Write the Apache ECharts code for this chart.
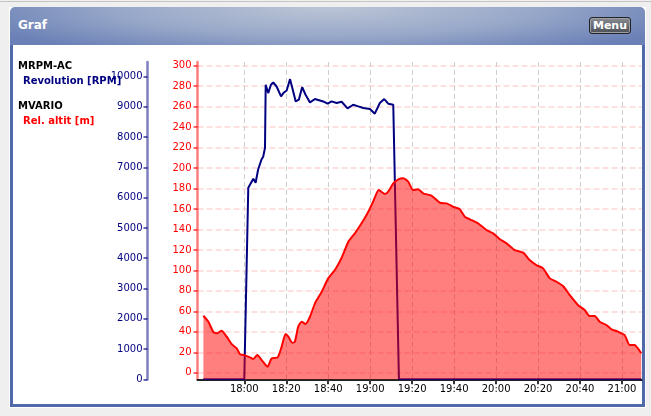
<!DOCTYPE html>
<html>
<head>
<meta charset="utf-8">
<script src="https://cdn.jsdelivr.net/npm/echarts@6/dist/echarts.min.js"></script>
<style>
  html, body { margin:0; padding:0; width:651px; height:416px; overflow:hidden; background:#efefef; }
  #topline { position:absolute; left:0; top:1px; width:651px; height:1px; background:#c4c4c4; }
  #panel { position:absolute; left:9px; top:7px; width:637px; height:401px; background:#fff; }
  #head { position:absolute; left:10px; top:7px; width:635px; height:38px; border-radius:5px 5px 0 0;
    background:radial-gradient(ellipse 60% 140% at 50% 0%, #bcc5d6 0%, #98a8c9 55%, #6a80b6 100%); }
  #head .t { position:absolute; left:8px; top:11px; color:#fff; font:bold 12px "DejaVu Sans", sans-serif; }
  #menu { position:absolute; left:579px; top:10px; width:42px; height:17px; box-sizing:border-box;
    border:1px solid #222; border-radius:3px; background:linear-gradient(#8a8c94, #4e5058);
    box-shadow:inset 0 0 0 1px #9da0a8; color:#fff; font:bold 11px "DejaVu Sans", sans-serif;
    text-align:center; line-height:15px; }
  #body { position:absolute; left:10px; top:45px; width:629px; height:359px; border:3px solid #5069a8; border-top:none; background:#fff; }
  #chart { position:absolute; left:0; top:0; width:651px; height:416px; }
</style>
</head>
<body>
<div id="topline"></div>
<div id="panel"></div>
<div id="head"><span class="t">Graf</span><div id="menu">Menu</div></div>
<div id="body"></div>
<div id="chart"></div>
<script>
// Rel. altit [m] (MVARIO)
var altTime = [
  '17:40:30','17:42:54','17:45:12','17:46:54','17:49:12','17:51:36','17:54:00','17:56:24','17:58:00','18:00:18',
  '18:02:42','18:04:18','18:06:12','18:08:18','18:11:06','18:13:00','18:15:54','18:17:48','18:19:42','18:21:00',
  '18:22:54','18:24:06','18:25:42','18:27:18','18:29:12','18:31:18','18:33:42','18:36:54','18:40:00','18:43:12',
  '18:46:24','18:49:36','18:52:42','18:55:54','18:59:06','19:01:24','19:04:06','19:07:00','19:08:36','19:11:00',
  '19:13:24','19:15:48','19:18:06','19:20:30','19:22:54','19:25:12','19:29:12','19:33:12','19:36:24','19:39:30',
  '19:42:42','19:45:06','19:47:30','19:51:24','19:55:24','19:58:36','20:01:48','20:05:00','20:08:54','20:12:54',
  '20:16:00','20:19:12','20:22:24','20:25:36','20:28:48','20:31:54','20:35:06','20:39:00','20:42:12','20:44:36',
  '20:47:00','20:49:24','20:52:36','20:55:00','20:58:06','21:01:18','21:03:36','21:06:00','21:07:36','21:09:12'
];
var altValue = [
  55.7, 49.8, 40, 38.5, 41, 35.2, 28, 23.8, 18, 17,
  15, 13.4, 17.3, 12.4, 5.9, 14, 15, 25.4, 37.8, 35.2,
  29.3, 30.3, 45, 49.8, 47.6, 54.7, 67.8, 79.2, 92.2, 100.4,
  112.4, 128, 136.2, 146, 157.3, 167.1, 178.5, 174.6, 176.9, 185,
  189, 190, 186.7, 178.5, 179.2, 175.3, 173, 166.1, 165.5, 162.2,
  159.7, 152.4, 149.9, 146, 139.5, 136.2, 130.4, 126.4, 119.9, 117.3,
  110.1, 105.2, 102, 92.2, 88.9, 84.7, 75.9, 66.2, 61.3, 55.4,
  55.4, 49.8, 46.6, 42.4, 40.1, 36.8, 27.1, 27.1, 23.8, 19
];

// Revolution [RPM] (MRPM-AC)
var rpmTime = [
  '17:40:30','18:00:00','18:01:54','18:04:18','18:05:24','18:06:36','18:08:12','18:09:00','18:09:52','18:10:12',
  '18:11:24','18:12:42','18:13:48','18:15:24','18:17:30','18:18:36','18:20:12','18:21:48','18:22:54','18:24:30',
  '18:26:00','18:27:36','18:29:12','18:31:18','18:33:42','18:36:00','18:37:36','18:39:42','18:41:36','18:44:00',
  '18:46:24','18:49:12','18:51:54','18:54:18','18:56:42','18:59:54','19:02:12','19:04:36','19:06:42','19:08:36',
  '19:11:00','19:13:42','21:09:12'
];
var rpmValue = [
  0, 0, 6330, 6625, 6493, 6930, 7260, 7349, 7645, 9727,
  9454, 9727, 9803, 9671, 9342, 9454, 9539, 9914, 9618, 9178,
  9234, 9651, 9398, 9145, 9257, 9211, 9178, 9102, 9178, 9125,
  9168, 8947, 9069, 9013, 8960, 8927, 8773, 9125, 9257, 9102,
  9069, 0, 0
];

var timeTicks = ['18:00','18:20','18:40','19:00','19:20','19:40','20:00','20:20','20:40','21:00'];
var rpmTicks = [0,1000,2000,3000,4000,5000,6000,7000,8000,9000,10000];
var altTicks = [0,20,40,60,80,100,120,140,160,180,200,220,240,260,280,300];

function toMin(s) {
  var p = s.split(':').map(Number);
  return p[0] * 60 + p[1] + (p[2] || 0) / 60;
}
function fmtTime(v) {
  var h = Math.floor(v / 60 + 1e-6), m = Math.round(v - h * 60);
  return h + ':' + (m < 10 ? '0' + m : m);
}
function pairs(t, v) {
  return t.map(function (s, i) { return [toMin(s), v[i]]; });
}

var FONT = '"DejaVu Sans", sans-serif';
var chart = echarts.init(document.getElementById('chart'), null, { renderer: 'canvas' });

var option = {
  animation: false,
  backgroundColor: 'transparent',
  grid: { left: 197.5, right: 9.3, top: 62, bottom: 36.7, containLabel: false, outerBoundsMode: 'none' },
  graphic: [
    { type: 'text', left: 18, top: 61, style: { text: 'MRPM-AC', fill: '#000', font: 'bold 10px ' + FONT } },
    { type: 'text', left: 23, top: 76, style: { text: 'Revolution [RPM]', fill: '#000080', font: 'bold 10px ' + FONT } },
    { type: 'text', left: 18, top: 101, style: { text: 'MVARIO', fill: '#000', font: 'bold 10px ' + FONT } },
    { type: 'text', left: 23, top: 116, style: { text: 'Rel. altit [m]', fill: '#ff0000', font: 'bold 10px ' + FONT } }
  ],
  xAxis: {
    type: 'value',
    min: toMin('17:37:42'),
    max: toMin('21:09:24'),
    axisLine: { onZero: false, lineStyle: { color: '#222', width: 2 } },
    axisTick: { customValues: timeTicks.map(toMin), length: 5, lineStyle: { color: '#333', width: 2 } },
    axisLabel: { customValues: timeTicks.map(toMin), formatter: fmtTime, color: '#000',
      fontFamily: FONT, fontSize: 10, margin: 5 },
    splitLine: { show: true, lineStyle: { color: '#cfcfcf', type: [5, 3], width: 1 } }
  },
  yAxis: [
    {
      type: 'value', position: 'left', offset: 50,
      min: 0, max: 10480,
      axisLine: { show: true, lineStyle: { color: 'rgba(0,0,128,0.5)', width: 2.5 } },
      axisTick: { show: true, customValues: rpmTicks, length: 4, lineStyle: { color: 'rgba(0,0,128,0.6)', width: 2 } },
      axisLabel: { customValues: rpmTicks, formatter: function (v) { return String(v); },
        color: '#000080', fontFamily: FONT, fontSize: 10, margin: 5 },
      splitLine: { show: false }
    },
    {
      type: 'value', position: 'left', offset: 0,
      min: -6.4, max: 303.6,
      axisLine: { show: true, lineStyle: { color: 'rgba(255,0,0,0.5)', width: 2.5 } },
      axisTick: { show: true, customValues: altTicks, length: 4, lineStyle: { color: 'rgba(255,0,0,0.6)', width: 2 } },
      axisLabel: { customValues: altTicks, formatter: function (v) { return String(v); },
        color: '#ff0000', fontFamily: FONT, fontSize: 10, margin: 6 },
      splitLine: { show: true, lineStyle: { color: 'rgba(255,0,0,0.12)', type: [6, 3], width: 2 } }
    }
  ],
  series: [
    {
      name: 'Revolution [RPM]', type: 'line', yAxisIndex: 0,
      data: pairs(rpmTime, rpmValue),
      showSymbol: false, symbol: 'none',
      lineStyle: { color: '#000080', width: 2 },
      z: 2
    },
    {
      name: 'Rel. altit [m]', type: 'line', yAxisIndex: 1,
      data: pairs(altTime, altValue),
      showSymbol: false, symbol: 'none', smooth: 0.2,
      lineStyle: { color: '#ff0000', width: 2 },
      areaStyle: { color: '#ff0000', opacity: 0.5, origin: 'start' },
      z: 3
    }
  ]
};
chart.setOption(option);
</script>
</body>
</html>
